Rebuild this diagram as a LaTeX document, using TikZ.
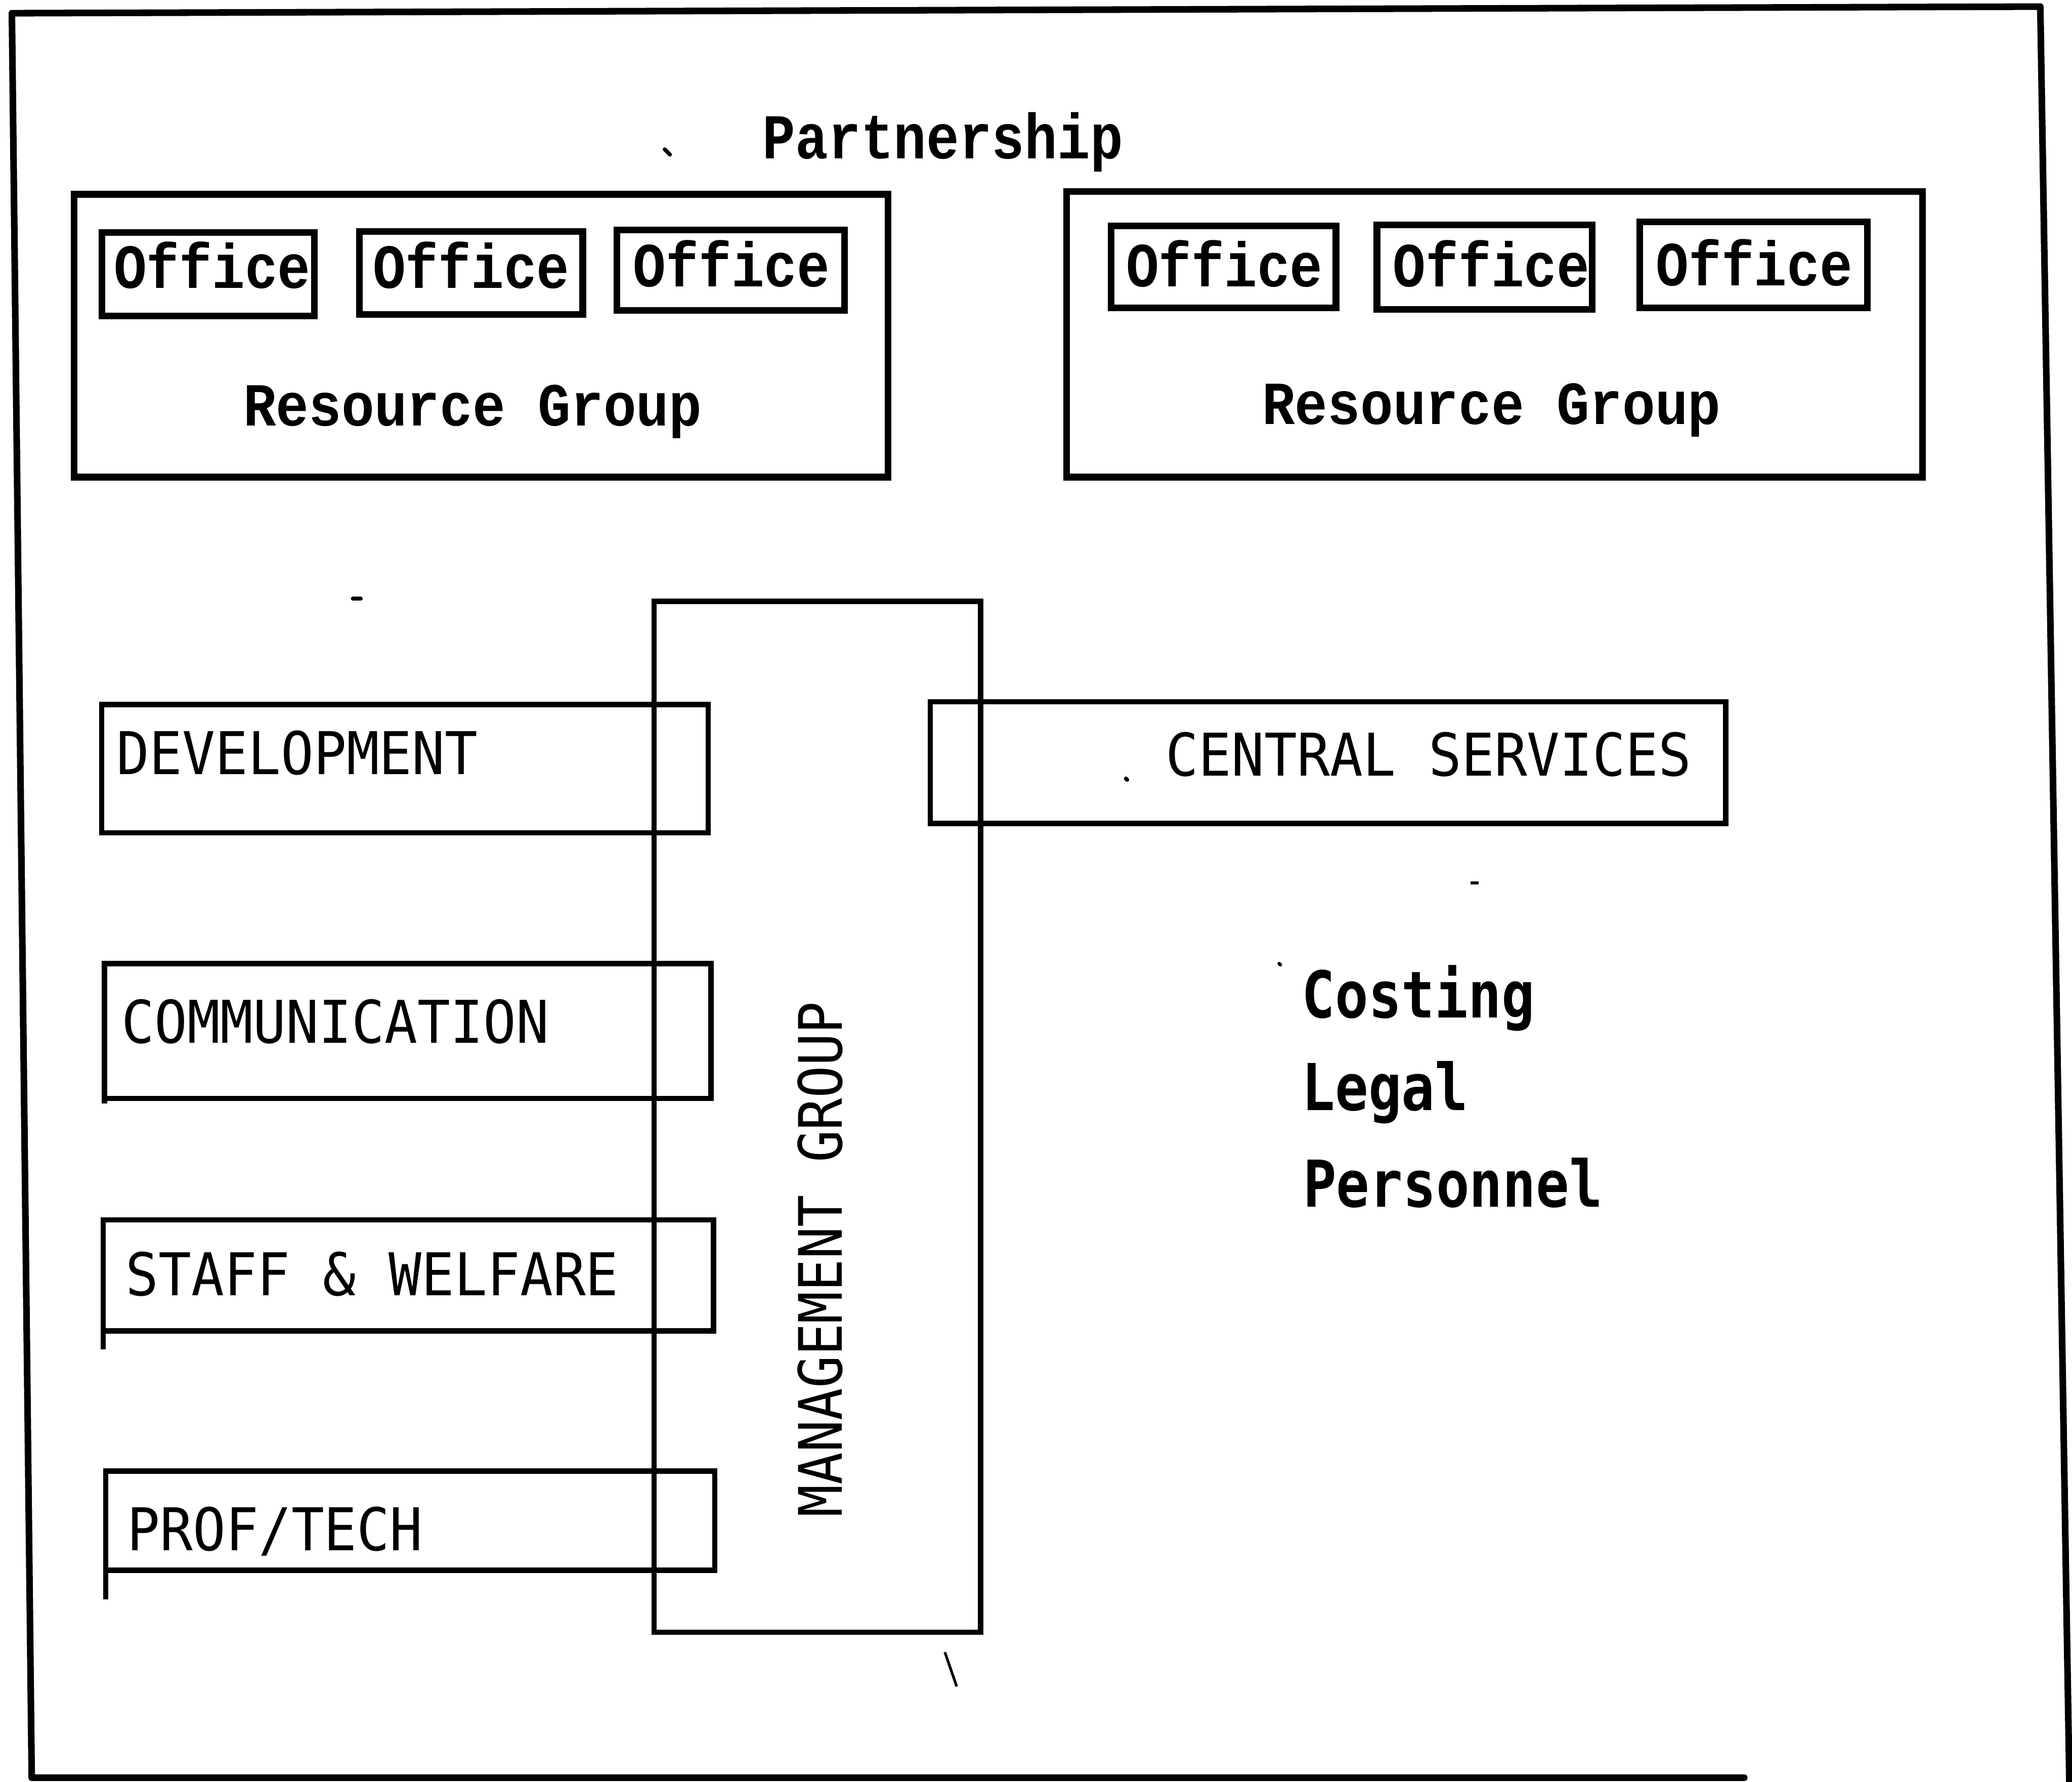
\documentclass[tikz,border=0pt]{standalone}
\usepackage{fontspec}
\usepackage{graphicx}
\newfontfamily\typfont{Liberation Mono}
\newfontfamily\plotfont{DejaVu Sans Mono}
\newcommand{\tall}[2]{\scalebox{1}[#1]{#2}}
\begin{document}
\begin{tikzpicture}[x=1pt,y=-1pt,
  frame/.style={line width=5pt, line join=round, line cap=round},
  topbox/.style={draw, line width=5pt, inner sep=0pt, outer sep=0pt, anchor=north west},
  deptbox/.style={draw, line width=4pt, inner sep=0pt, outer sep=0pt, anchor=north west},
  deptline/.style={line width=4pt},
  typtext/.style={inner sep=0pt, anchor=base west, font=\typfont\bfseries\fontsize{41.3}{41}\selectfont},
  captext/.style={inner sep=0pt, anchor=base west, font=\plotfont\fontsize{41.3}{41}\selectfont},
  listtext/.style={inner sep=0pt, anchor=base west, font=\plotfont\bfseries\fontsize{41.8}{41}\selectfont},
  speck/.style={line width=3pt, line cap=round}]
\useasboundingbox (0,0) rectangle (1568,1348);

% outer frame
\coordinate (fbr) at (1320,1345);
\coordinate (fbl) at (24,1345);
\coordinate (ftl) at (9,10);
\coordinate (ftr) at (1544,5);
\coordinate (fre) at (1566,1350);
\draw[frame] (fbr) -- (fbl) -- (ftl) -- (ftr) -- (fre);

% title
\node[typtext] (part) at (577,120) {\tall{1.17}{Partnership}};

% resource groups
\node[topbox, minimum width=616pt, minimum height=214pt] (rg1) at (56,147) {};
\node[topbox, minimum width=648pt, minimum height=216pt] (rg2) at (807,145) {};
\node[typtext] (rg1t) at (184,322) {\tall{1.12}{Resource Group}};
\node[typtext] (rg2t) at (955,321) {\tall{1.12}{Resource Group}};

% offices
\node[topbox, minimum width=161pt, minimum height=63pt] (o1) at (77,176) {};
\node[topbox, minimum width=169pt, minimum height=63pt] (o2) at (272,175) {};
\node[topbox, minimum width=172pt, minimum height=61pt] (o3) at (467,174) {};
\node[topbox, minimum width=170pt, minimum height=62pt] (o4) at (841,171) {};
\node[topbox, minimum width=163pt, minimum height=64pt] (o5) at (1042,170) {};
\node[topbox, minimum width=172pt, minimum height=65pt] (o6) at (1241,168) {};
\node[typtext] (o1t) at (86,218) {\tall{1.15}{Office}};
\node[typtext] (o2t) at (282,218) {\tall{1.15}{Office}};
\node[typtext] (o3t) at (479,217) {\tall{1.15}{Office}};
\node[typtext] (o4t) at (852,217) {\tall{1.15}{Office}};
\node[typtext] (o5t) at (1054,217) {\tall{1.15}{Office}};
\node[typtext] (o6t) at (1253,216) {\tall{1.15}{Office}};

% management group
\node[deptbox, minimum width=247pt, minimum height=780pt] (mg) at (495,455) {};
\node[captext, rotate=90, font=\plotfont\fontsize{40.5}{41}\selectfont] (mgt) at (637,1148) {\tall{1.12}{MANAGEMENT GROUP}};

% departments
\node[deptbox, minimum width=459pt, minimum height=97pt] (dev) at (77,533) {};
\node[deptbox, minimum width=459pt, minimum height=102pt] (comm) at (79,729) {};
\node[deptbox, minimum width=462pt, minimum height=84pt] (staff) at (78,923) {};
\node[deptbox, minimum width=461pt, minimum height=75pt] (prof) at (80,1113) {};
\node[deptbox, minimum width=602pt, minimum height=92pt] (cs) at (704,531) {};
\draw[deptline] (comm.south west) -- ++(0,4);
\draw[deptline] (staff.south west) -- ++(0,14);
\draw[deptline] (prof.south west) -- ++(0,22);

\node[captext] (devt) at (88,586) {\tall{1.08}{DEVELOPMENT}};
\node[captext] (commt) at (92,789) {\tall{1.08}{COMMUNICATION}};
\node[captext] (stafft) at (95,980) {\tall{1.08}{STAFF \& WELFARE}};
\node[captext] (proft) at (96,1173) {\tall{1.08}{PROF/TECH}};
\node[captext] (cst) at (882,587) {\tall{1.08}{CENTRAL SERVICES}};

% central services list
\node[listtext] (cost) at (985,770) {\tall{1.17}{Costing}};
\node[listtext] (legal) at (985,840) {\tall{1.17}{Legal}};
\node[listtext] (pers) at (986,913) {\tall{1.17}{Personnel}};

% stray marks
\coordinate (s1a) at (503,113); \coordinate (s1b) at (507,117);
\draw[speck] (s1a) -- (s1b);
\coordinate (s2a) at (267,453); \coordinate (s2b) at (273,453);
\draw[speck] (s2a) -- (s2b);
\coordinate (s3a) at (852,589); \coordinate (s3b) at (853,590);
\draw[speck] (s3a) -- (s3b);
\coordinate (s4a) at (1113,668); \coordinate (s4b) at (1119,668);
\draw[line width=2pt] (s4a) -- (s4b);
\coordinate (s5a) at (968,729); \coordinate (s5b) at (969,730);
\draw[line width=2.5pt, line cap=round] (s5a) -- (s5b);
\coordinate (s6a) at (715,1250); \coordinate (s6b) at (724,1276);
\draw[line width=2pt] (s6a) -- (s6b);
\end{tikzpicture}
\end{document}
